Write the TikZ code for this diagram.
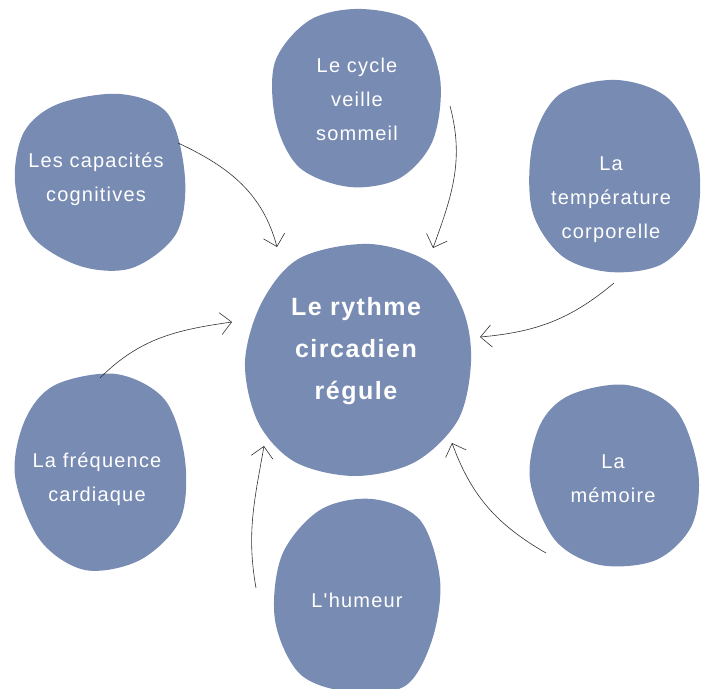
\documentclass[tikz,border=0pt]{standalone}
\usepackage{fontspec}
\setmainfont{Liberation Sans}
\newfontfamily\smallfnt[LetterSpace=6]{Liberation Sans}
\newfontfamily\boldfnt[LetterSpace=6]{Liberation Sans Bold}
\usetikzlibrary{arrows.meta}
\definecolor{blobc}{RGB}{120,139,179}
\definecolor{arrc}{RGB}{50,50,50}
\tikzset{
  blob/.style={fill=blobc, draw=none},
  lbl/.style={text=white, align=center, font=\smallfnt\fontsize{20}{34}\selectfont, inner sep=0pt},
  mainlbl/.style={text=white, align=center, font=\boldfnt\fontsize{25}{42}\selectfont, inner sep=0pt},
  conn/.style={draw=arrc, line width=0.6pt, -{Straight Barb[length=11pt,width=22pt,line width=0.6pt]}}
}
\begin{document}
\begin{tikzpicture}[x=1pt,y=1pt]
\useasboundingbox (0,0) rectangle (708,-688);
\begin{scope}
\clip (0,0) rectangle (708,-688);
% central blob
\fill[blob] plot[smooth cycle, tension=0.55] coordinates {(300,-258) (370,-244) (432,-264) (463,-310) (471,-362) (458,-420) (415,-462) (355,-476) (295,-462) (258,-422) (245,-362) (262,-302)};
% top blob
\fill[blob] plot[smooth cycle, tension=0.55] coordinates {(310,-20) (362,-9) (416,-24) (440,-78) (433,-140) (400,-178) (350,-187) (300,-168) (276,-122) (275,-62)};
% top-left blob
\fill[blob] plot[smooth cycle, tension=0.55] coordinates {(58,-104) (120,-94) (168,-114) (185,-178) (176,-234) (132,-268) (80,-266) (32,-236) (15,-182) (24,-132)};
% top-right blob
\fill[blob] plot[smooth cycle, tension=0.55] coordinates {(560,-94) (617,-80) (670,-100) (698,-160) (695,-225) (662,-264) (610,-272) (562,-256) (532,-210) (533,-142)};
% bottom-left blob
\fill[blob] plot[smooth cycle, tension=0.55] coordinates {(55,-385) (116,-374) (165,-400) (185,-460) (180,-520) (140,-560) (85,-570) (40,-540) (15,-476) (25,-420)};
% bottom-right blob
\fill[blob] plot[smooth cycle, tension=0.55] coordinates {(570,-395) (627,-385) (676,-410) (698,-470) (692,-525) (656,-560) (600,-565) (555,-540) (530,-480) (540,-425)};
% bottom blob
\fill[blob] plot[smooth cycle, tension=0.55] coordinates {(320,-510) (372,-499) (420,-520) (440,-580) (432,-640) (405,-686) (350,-692) (300,-674) (275,-620) (282,-555)};
\end{scope}

\node[mainlbl] (main) at (356,-351) {Le rythme\\circadien\\régule};
\node[lbl] (cycle) at (357,-99) {Le cycle\\veille\\sommeil};
\node[lbl] (cog) at (96,-179) {Les capacités\\cognitives};
\node[lbl] (temp) at (611,-200) {La\\température\\corporelle};
\node[lbl] (freq) at (97,-479) {La fréquence\\cardiaque};
\node[lbl] (mem) at (613,-479) {La\\mémoire};
\node[lbl] (hum) at (357,-600) {L'humeur};

\coordinate (a1s) at (178,-143); \coordinate (a1e) at (277,-247);
\coordinate (a2s) at (450,-106); \coordinate (a2e) at (433,-248);
\coordinate (a3s) at (614,-283); \coordinate (a3e) at (480,-337);
\coordinate (a4s) at (100,-378); \coordinate (a4e) at (232,-322);
\coordinate (a5s) at (256,-588); \coordinate (a5e) at (264,-446);
\coordinate (a6s) at (546,-553); \coordinate (a6e) at (452,-443);

\draw[conn] (a1s) to[out=-25, in=105] (a1e);
\draw[conn] (a2s) to[out=-75, in=70] (a2e);
\draw[conn] (a3s) to[out=-140, in=5] (a3e);
\draw[conn] (a4s) to[out=45, in=188] (a4e);
\draw[conn] (a5s) to[out=100, in=-100] (a5e);
\draw[conn] (a6s) to[out=150, in=-70] (a6e);
\end{tikzpicture}
\end{document}
